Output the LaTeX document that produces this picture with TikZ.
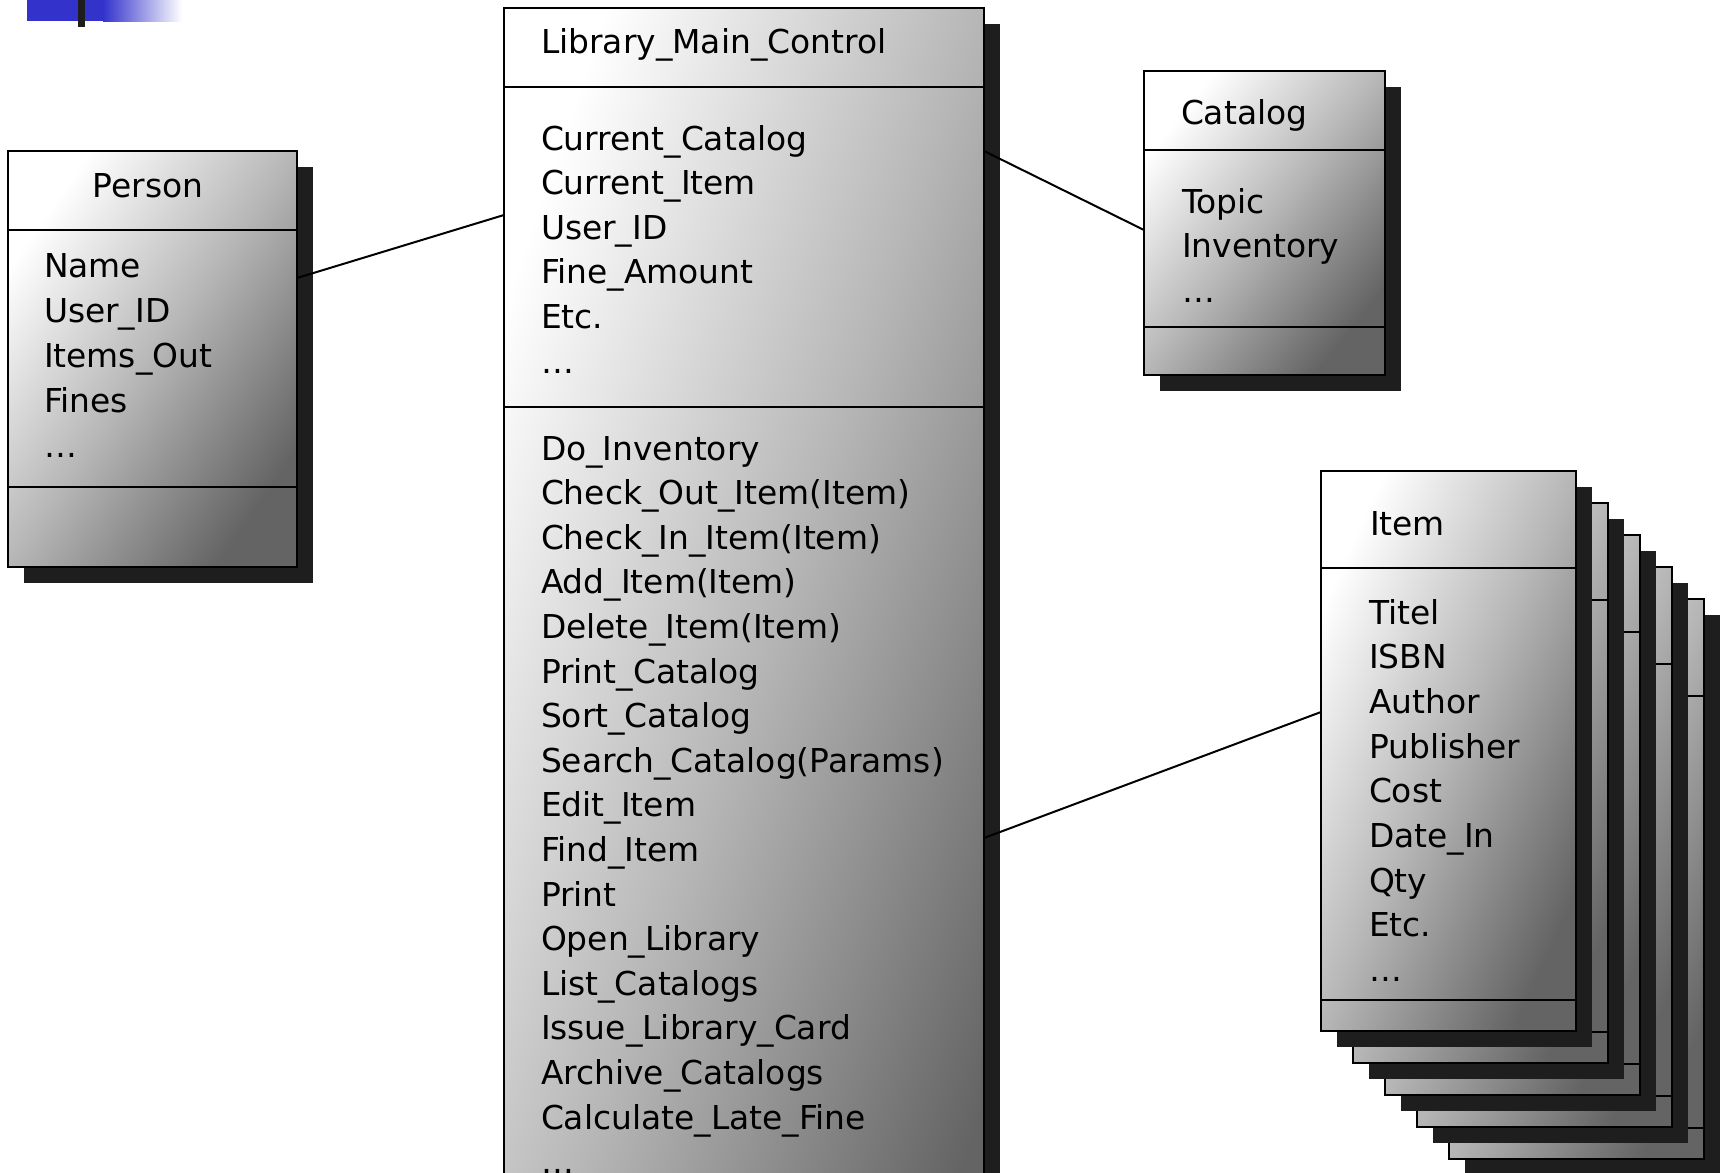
\documentclass[tikz,border=0pt]{standalone}
\usepackage{fontspec}
\setmainfont{DejaVu Sans}
\usetikzlibrary{fit}
\definecolor{shadowc}{HTML}{1E1E1E}
\definecolor{bodymid}{HTML}{B6B6B6}
\definecolor{bodydark}{HTML}{646464}
\definecolor{umlblue}{HTML}{3333CC}
\pgfdeclarehorizontalshading{umlbody}{100bp}{color(0bp)=(white); color(25bp)=(white); color(50bp)=(bodymid); color(75bp)=(bodydark); color(100bp)=(bodydark)}
\tikzset{
  shadowfill/.style={fill=shadowc},
  bodyshade/.style={shade, shading=umlbody},
  frame/.style={draw=black, line width=1pt, inner sep=0pt, outer sep=0pt},
  divider/.style={line width=1pt},
  conn/.style={line width=1pt},
  txt/.style={inner sep=0pt, outer sep=0pt, font=\fontsize{16.45}{22}\selectfont, text=black},
}
% #1 name, #2 x1, #3 y1, #4 x2, #5 y2, #6 first divider, #7 second divider
\newcommand{\umlclassbox}[7]{%
  \pgfmathsetmacro{\umlang}{-atan(((#4)-(#2))/((#5)-(#3)))}%
  \fill[shadowfill] (#2+16,#3+16) rectangle (#4+16,#5+16);
  \path[bodyshade, shading angle=\umlang] (#2,#3) rectangle (#4,#5);
  \node[frame, fit={(#2,#3) (#4,#5)}] (#1) {};
  \draw[divider] (#1.west |- 0,#6) -- (#1.east |- 0,#6);
  \draw[divider] (#1.west |- 0,#7) -- (#1.east |- 0,#7);
}
\begin{document}
\begin{tikzpicture}[x=0.5pt,y=-0.5pt]
\useasboundingbox (0,0) rectangle (1726,1173);
\clip (0,0) rectangle (1726,1173);
\fill[white] (0,0) rectangle (1726,1173);

% top-left decoration
\fill[umlblue] (27,0) rectangle (104,21);
\shade[left color=umlblue, right color=white] (103,0) rectangle (182,21);
\fill[shadowc] (78,0) rectangle (85,27);

% Person
\umlclassbox{person}{8}{151}{297}{567}{230}{487}
\node[txt, anchor=base] (p-title) at (148,197) {Person};
\foreach \t [count=\i] in {Name, User\_ID, Items\_Out, Fines, …}
  \node[txt, anchor=base west] (p-a\i) at (44,{277+45*(\i-1)}) {\t};

% Library_Main_Control
\umlclassbox{main}{504}{8}{984}{1400}{87}{407}
\node[txt, anchor=base west] (m-title) at (541,53) {Library\_Main\_Control};
\foreach \t [count=\i] in {Current\_Catalog, Current\_Item, User\_ID, Fine\_Amount, Etc., …}
  \node[txt, anchor=base west] (m-a\i) at (541,{150+44.6*(\i-1)}) {\t};
\foreach \t [count=\i] in {Do\_Inventory, Check\_Out\_Item(Item), Check\_In\_Item(Item), Add\_Item(Item), Delete\_Item(Item), Print\_Catalog, Sort\_Catalog, Search\_Catalog(Params), Edit\_Item, Find\_Item, Print, Open\_Library, List\_Catalogs, Issue\_Library\_Card, Archive\_Catalogs, Calculate\_Late\_Fine, …}
  \node[txt, anchor=base west] (m-o\i) at (541,{460+44.6*(\i-1)}) {\t};

% Catalog
\umlclassbox{catalog}{1144}{71}{1385}{375}{150}{327}
\node[txt, anchor=base west] (c-title) at (1181,124) {Catalog};
\foreach \t [count=\i] in {Topic, Inventory, …}
  \node[txt, anchor=base west] (c-a\i) at (1182,{213+44.6*(\i-1)}) {\t};

% Item stack (back to front)
\foreach \k in {4,3,2,1} {
  \umlclassbox{itemcopy\k}{1321+32*\k}{471+32*\k}{1576+32*\k}{1031+32*\k}{568+32*\k}{1000+32*\k}
}
\umlclassbox{item}{1321}{471}{1576}{1031}{568}{1000}
\node[txt, anchor=base west] (i-title) at (1370,535) {Item};
\foreach \t [count=\i] in {Titel, ISBN, Author, Publisher, Cost, Date\_In, Qty, Etc., …}
  \node[txt, anchor=base west] (i-a\i) at (1369,{624+44.7*(\i-1)}) {\t};

% connectors
\draw[conn] (person.east |- 0,278) -- (main.west |- 0,215);
\draw[conn] (main.east |- 0,151) -- (catalog.west |- 0,230);
\draw[conn] (main.east |- 0,838) -- (item.west |- 0,712);
\end{tikzpicture}
\end{document}
